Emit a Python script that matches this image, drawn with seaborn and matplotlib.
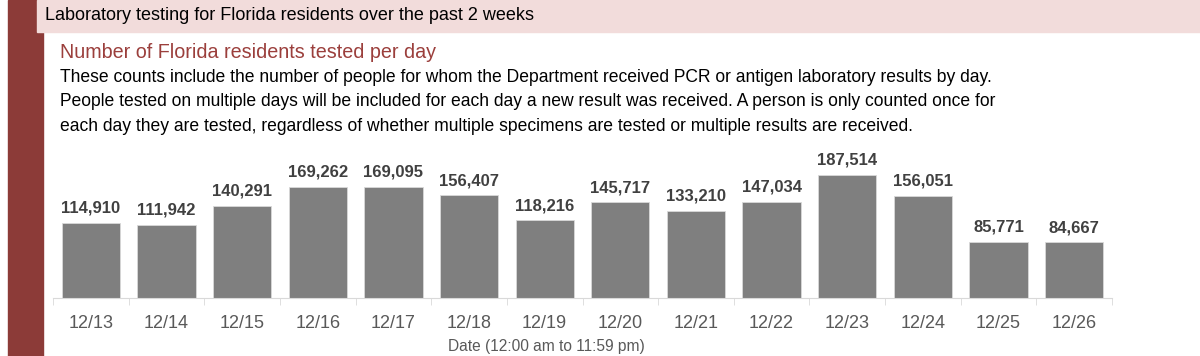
import numpy as np
import pandas as pd
import matplotlib.pyplot as plt
import matplotlib.patches as mpatches
from matplotlib.ticker import FixedLocator
import seaborn as sns

# data
dates = ['12/13', '12/14', '12/15', '12/16', '12/17', '12/18', '12/19',
         '12/20', '12/21', '12/22', '12/23', '12/24', '12/25', '12/26']
tested = [114910, 111942, 140291, 169262, 169095, 156407, 118216,
          145717, 133210, 147034, 187514, 156051, 85771, 84667]

df = pd.DataFrame({'date': dates, 'tested': tested})

sns.set_style('white')
plt.rcParams['font.family'] = ['Liberation Sans', 'DejaVu Sans']

fig = plt.figure(figsize=(12, 3.56), dpi=100)

# left dark red strip and header band
fig.patches.append(mpatches.Rectangle((8 / 1200, 0), 35 / 1200, 1, transform=fig.transFigure,
                                      color='#8c3b38', zorder=0))
fig.patches.append(mpatches.Rectangle((37 / 1200, 1 - 32 / 356), 1 - 37 / 1200, 32 / 356,
                                      transform=fig.transFigure, color='#f2dcdb', zorder=1))

fig.text(45 / 1200, 1 - 16 / 356, 'Laboratory testing for Florida residents over the past 2 weeks',
         fontsize=13, color='black', va='center')
fig.text(60 / 1200, 1 - 52 / 356, 'Number of Florida residents tested per day',
         fontsize=14.2, color='#9b3f3c', va='center')
body = ['These counts include the number of people for whom the Department received PCR or antigen laboratory results by day.',
        'People tested on multiple days will be included for each day a new result was received. A person is only counted once for',
        'each day they are tested, regardless of whether multiple specimens are tested or multiple results are received.']
for i, line in enumerate(body):
    fig.text(60 / 1200, 1 - (77 + 25 * i) / 356, line, fontsize=12.65, color='black', va='center')

ax = fig.add_axes([53 / 1200, 1 - 298 / 356, (1112 - 53) / 1200, 158 / 356])
sns.barplot(data=df, x='date', y='tested', color='#7f7f7f', saturation=1, width=0.77,
            edgecolor='#d9d9d9', linewidth=0.6, ax=ax)
ax.set_ylim(0, 241000)
ax.set_xlim(-0.5, len(dates) - 0.5)

for i, v in enumerate(tested):
    ax.text(i, v + 11000, f'{v:,}', ha='center', va='bottom', fontsize=12,
            fontweight='bold', color='#404040')

sns.despine(ax=ax, left=True, top=True, right=True)
ax.spines['bottom'].set_color('#d9d9d9')
ax.set_yticks([])
ax.set_ylabel('')
ax.set_xlabel('')
ax.tick_params(axis='x', which='major', length=0, pad=12, labelsize=13, labelcolor='#595959')
ax.xaxis.set_minor_locator(FixedLocator(np.arange(-0.5, len(dates), 1)))
ax.tick_params(axis='x', which='minor', length=5, color='#d9d9d9', bottom=True)

fig.text(546 / 1200, 1 - 346 / 356, 'Date (12:00 am to 11:59 pm)', fontsize=11.2,
         color='#595959', ha='center', va='center')

fig.savefig('out.png', dpi=100)
